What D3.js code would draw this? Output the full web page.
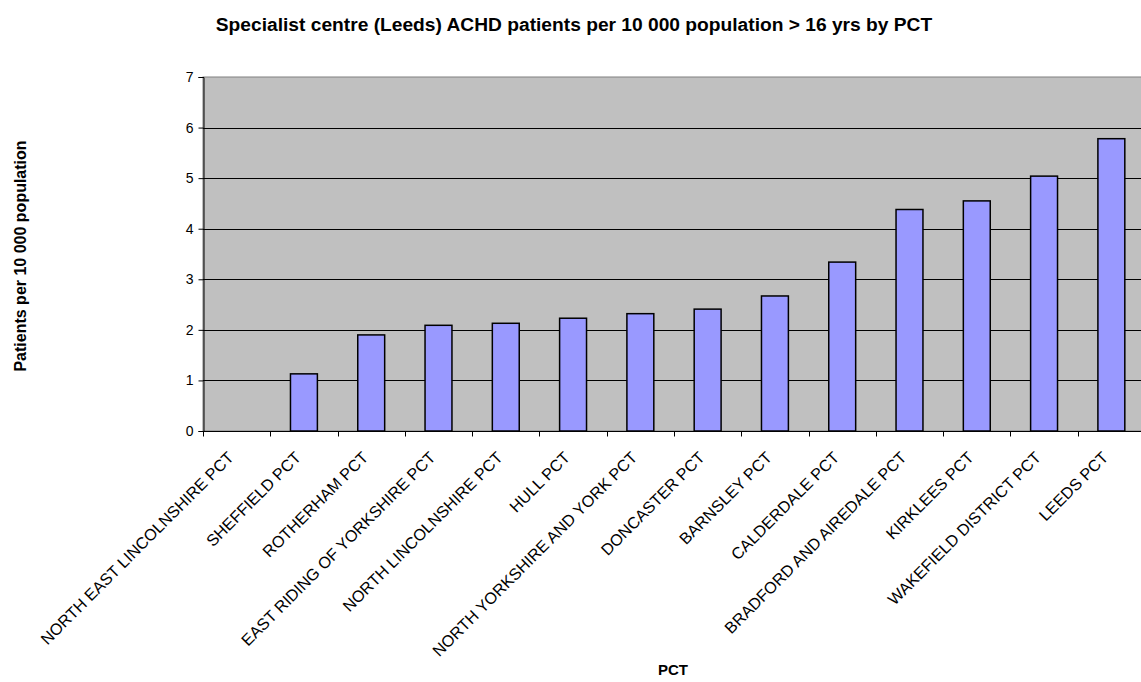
<!DOCTYPE html>
<html>
<head>
<meta charset="utf-8">
<script src="https://cdn.jsdelivr.net/npm/d3@7"></script>
<style>
  body { margin: 0; background: #fff; }
  svg { display: block; font-family: Arial, "Liberation Sans", sans-serif; }
</style>
</head>
<body>
<svg id="chart" width="1141" height="682"></svg>
<script>
// PCTs, sorted by rate (as in the source chart)
const pcts = [
  'NORTH EAST LINCOLNSHIRE PCT', 'SHEFFIELD PCT', 'ROTHERHAM PCT',
  'EAST RIDING OF YORKSHIRE PCT', 'NORTH LINCOLNSHIRE PCT', 'HULL PCT',
  'NORTH YORKSHIRE AND YORK PCT', 'DONCASTER PCT', 'BARNSLEY PCT',
  'CALDERDALE PCT', 'BRADFORD AND AIREDALE PCT', 'KIRKLEES PCT',
  'WAKEFIELD DISTRICT PCT', 'LEEDS PCT'
];
// patients per 10 000 population > 16 yrs
const rates = [0, 1.13, 1.9, 2.09, 2.13, 2.23, 2.32, 2.41, 2.67, 3.34, 4.38, 4.55, 5.04, 5.78];
const yTicks = [0, 1, 2, 3, 4, 5, 6, 7];

const data = pcts.map((p, i) => ({ pct: p, rate: rates[i] }));

const svg = d3.select('#chart');
const plot = { left: 203, top: 77, right: 1145, bottom: 431 };

const x = d3.scaleBand()
  .domain(pcts)
  .range([plot.left, plot.right])
  .paddingInner(0.6)
  .paddingOuter(0.3);

const y = d3.scaleLinear().domain([0, 7]).range([plot.bottom, plot.top]);

// plot background
svg.append('rect')
  .attr('x', plot.left).attr('y', plot.top)
  .attr('width', plot.right - plot.left).attr('height', plot.bottom - plot.top)
  .attr('fill', '#c0c0c0')
  .attr('stroke', '#808080');

// gridlines
svg.append('g')
  .selectAll('line')
  .data(yTicks.slice(1, -1))
  .join('line')
  .attr('x1', plot.left).attr('x2', plot.right)
  .attr('y1', d => Math.round(y(d)) + 0.5).attr('y2', d => Math.round(y(d)) + 0.5)
  .attr('stroke', '#000');

// bars
svg.append('g')
  .selectAll('rect')
  .data(data.filter(d => d.rate > 0))
  .join('rect')
  .attr('x', d => x(d.pct))
  .attr('y', d => y(d.rate))
  .attr('width', x.bandwidth())
  .attr('height', d => y(0) - y(d.rate))
  .attr('fill', '#9999ff')
  .attr('stroke', '#000')
  .attr('stroke-width', 1.5);

// y axis
const yAxis = svg.append('g')
  .attr('transform', `translate(${plot.left + 0.5},0)`)
  .call(d3.axisLeft(y).tickValues(yTicks).tickSize(5).tickPadding(5).tickFormat(d3.format('d')));
yAxis.select('.domain').attr('stroke', '#000');
yAxis.selectAll('text').attr('font-size', 14).attr('fill', '#000').attr('font-family', 'Arial, "Liberation Sans", sans-serif');

// x axis: ticks between categories
const step = x.step();
const xAxis = svg.append('g').attr('transform', `translate(0,${plot.bottom + 0.5})`);
xAxis.append('line')
  .attr('x1', plot.left).attr('x2', plot.right)
  .attr('stroke', '#000');
xAxis.selectAll('.tick')
  .data(d3.range(pcts.length + 1))
  .join('line')
  .attr('class', 'tick')
  .attr('x1', i => Math.round(plot.left + i * step) + 0.5)
  .attr('x2', i => Math.round(plot.left + i * step) + 0.5)
  .attr('y1', 0).attr('y2', 5)
  .attr('stroke', '#000');

xAxis.selectAll('.lbl')
  .data(pcts)
  .join('text')
  .attr('class', 'lbl')
  .attr('transform', d => `translate(${x(d) + x.bandwidth() / 2 - 2},${27}) rotate(-45)`)
  .attr('text-anchor', 'end')
  .attr('font-size', 16.2)
  .attr('fill', '#000')
  .text(d => d);

// titles
svg.append('text')
  .attr('x', 574).attr('y', 31)
  .attr('text-anchor', 'middle')
  .attr('font-size', 19.2).attr('font-weight', 'bold')
  .text('Specialist centre (Leeds) ACHD patients per 10 000 population > 16 yrs by PCT');

svg.append('text')
  .attr('x', 673).attr('y', 675)
  .attr('text-anchor', 'middle')
  .attr('font-size', 15).attr('font-weight', 'bold')
  .text('PCT');

svg.append('text')
  .attr('transform', `translate(26,${(plot.top + plot.bottom) / 2 + 2}) rotate(-90)`)
  .attr('text-anchor', 'middle')
  .attr('font-size', 16).attr('font-weight', 'bold')
  .text('Patients per 10 000 population');
</script>
</body>
</html>
